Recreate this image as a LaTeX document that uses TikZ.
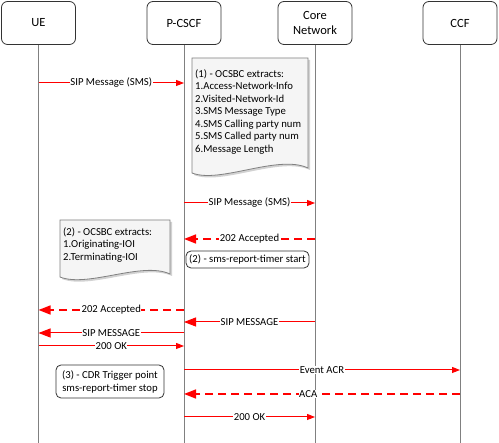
\documentclass[tikz,border=0pt]{standalone}
\usepackage{fontspec}
\setmainfont{Carlito}
\usetikzlibrary{arrows.meta}
\begin{document}
\begin{tikzpicture}[x=1pt,y=-1pt,
 hdr/.style={draw=black!80, rounded corners=6pt, minimum width=74pt, minimum height=43pt, align=center, font=\fontsize{12.5}{15.5}\selectfont, line width=0.8pt, inner sep=2pt},
 life/.style={draw=gray, line width=1pt},
 msg/.style={draw=red, line width=1pt},
 dmsg/.style={draw=red, line width=1.6pt, dash pattern=on 8pt off 5pt},
 bigtip/.style={-{Triangle[length=12pt,width=9pt,fill=red]}},
 smalltip/.style={-{Triangle[length=8pt,width=6pt,fill=red]}},
 lbl/.style={fill=white, inner sep=0.5pt, font=\fontsize{10.7}{12}\selectfont},
 doctext/.style={align=left, anchor=north west, inner sep=0pt, font=\fontsize{10.7}{12.5}\selectfont},
 docfill/.style={draw=gray, fill=black!4, line width=0.8pt},
 docshadow/.style={fill=gray!35},
 notebox/.style={draw=black!80, rounded corners=5pt, line width=0.8pt, align=center, font=\fontsize{10.7}{13}\selectfont, inner sep=0pt},
]
\useasboundingbox (0,0) rectangle (499,443);
\fill[white] (0,0) rectangle (499,443);

% headers
\node[hdr] (ue) at (38.5,23) {UE};
\node[hdr] (pcscf) at (184,23) {P-CSCF};
\node[hdr] (core) at (315,23) {Core\\Network};
\node[hdr] (ccf) at (460,23) {CCF};

% lifeline ends
\coordinate (bot) at (0,443);
\draw[life] (ue.south) -- (ue |- bot);
\draw[life] (pcscf.south) -- (pcscf |- bot);
\draw[life] (core.south) -- (core |- bot);
\draw[life] (ccf.south) -- (ccf |- bot);

% document (1)
\fill[docshadow] (194,60) -- (310,60) -- (310,170) .. controls (280,156) and (222,186) .. (194,175) -- cycle;
\path[docfill] (192,58) -- (308,58) -- (308,168) .. controls (278,154) and (220,184) .. (192,173) -- cycle;
\node[doctext] (doc1) at (195,69) {(1) - OCSBC extracts:\\1.Access-Network-Info\\2.Visited-Network-Id\\3.SMS Message Type\\4.SMS Calling party num\\5.SMS Called party num\\6.Message Length};

% document (2)
\fill[docshadow] (62,222) -- (172,222) -- (172,276) .. controls (144,263) and (90,290) .. (62,279) -- cycle;
\path[docfill] (60,220) -- (170,220) -- (170,274) .. controls (142,261) and (88,288) .. (60,277) -- cycle;
\node[doctext] (doc2) at (63,227) {(2) - OCSBC extracts:\\1.Originating-IOI\\2.Terminating-IOI};

% rounded notes
\node[notebox, minimum width=123pt, minimum height=17pt] (n2) at (247.5,259.5) {(2) - sms-report-timer start};
\node[notebox, minimum width=108pt, minimum height=33pt] (n3) at (110,381.5) {(3) - CDR Trigger point\\sms-report-timer stop};

% message rows
\coordinate (r1) at (0,83);
\coordinate (r2) at (0,203);
\coordinate (r3) at (0,239);
\coordinate (r4) at (0,310);
\coordinate (r5) at (0,322);
\coordinate (r6) at (0,333);
\coordinate (r7) at (0,346);
\coordinate (r8) at (0,370);
\coordinate (r9) at (0,394);
\coordinate (r10) at (0,417);

\draw[msg, smalltip] (ue |- r1) -- node[lbl] {SIP Message (SMS)} (pcscf |- r1);
\draw[msg, smalltip] (pcscf |- r2) -- node[lbl] {SIP Message (SMS)} (core |- r2);
\draw[dmsg, bigtip] (core |- r3) -- node[lbl] {202 Accepted} (pcscf |- r3);
\draw[dmsg, bigtip] (pcscf |- r4) -- node[lbl] {202 Accepted} (ue |- r4);
\draw[msg, bigtip] (core |- r5) -- node[lbl] {SIP MESSAGE} (pcscf |- r5);
\draw[msg, bigtip] (pcscf |- r6) -- node[lbl] {SIP MESSAGE} (ue |- r6);
\draw[msg, smalltip] (ue |- r7) -- node[lbl] {200 OK} (pcscf |- r7);
\draw[msg, smalltip] (pcscf |- r8) -- node[lbl] {Event ACR} (ccf |- r8);
\draw[dmsg, bigtip] (ccf |- r9) -- node[lbl, pos=0.55] {ACA} (pcscf |- r9);
\draw[msg, smalltip] (pcscf |- r10) -- node[lbl] {200 OK} (core |- r10);
\end{tikzpicture}
\end{document}
